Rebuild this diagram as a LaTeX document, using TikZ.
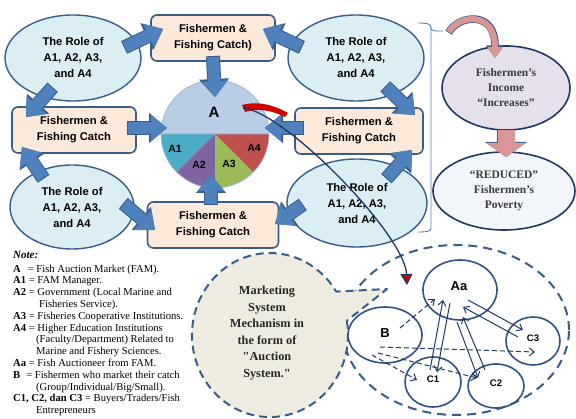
\documentclass[tikz,border=0pt]{standalone}
\usepackage{fontspec}
\setmainfont{Liberation Serif}
\setsansfont{Liberation Sans}
\newfontfamily\calloutfont{Liberation Serif}
\usetikzlibrary{shapes.geometric,arrows.meta}

\begin{document}
\begin{tikzpicture}[x=1pt,y=-1pt,
  role/.style={ellipse,draw=frameBlue,line width=1.4pt,fill=roleFill,inner sep=0pt,
    minimum width=136pt,minimum height=86pt,align=center,
    font=\sffamily\bfseries\fontsize{11.2}{16}\selectfont},
  catch/.style={rectangle,rounded corners=6pt,draw=frameBlue,line width=1.6pt,fill=catchFill,
    minimum width=124pt,minimum height=46pt,align=center,
    font=\sffamily\bfseries\fontsize{11.2}{16}\selectfont},
  blockarrow/.style={arrowBlue,line width=12pt,-{Triangle[width=27pt,length=16pt,line width=0pt]},
    preaction={draw=frameBlue,line width=14pt,shorten <=-1pt,-{Triangle[width=30pt,length=18pt,line width=0pt]}}},
  outcome/.style={ellipse,draw=outcomeEdge,line width=1.6pt,inner sep=0pt,align=center,
    text=outcomeText,font=\bfseries\fontsize{11.5}{15}\selectfont},
  party/.style={ellipse,draw=partyEdge,line width=1.6pt,inner sep=0pt,
    font=\sffamily\bfseries},
  deal/.style={partyArrow,line width=1pt,-{Straight Barb[length=5pt,width=8pt]}},
  offer/.style={deal,dash pattern=on 5pt off 3pt},
  slice/.style={font=\sffamily\bfseries\fontsize{10.5}{12}\selectfont}]
\definecolor{frameBlue}{HTML}{385D8A}
\definecolor{roleFill}{HTML}{DAEEF3}
\definecolor{catchFill}{HTML}{FDE9D9}
\definecolor{arrowBlue}{HTML}{4F81BD}
\definecolor{pieTop}{HTML}{B9CDE5}
\definecolor{pieEdge}{HTML}{95B3D7}
\definecolor{wedgeOne}{HTML}{4BACC6}
\definecolor{wedgeTwo}{HTML}{8064A2}
\definecolor{wedgeThree}{HTML}{9BBB59}
\definecolor{wedgeFour}{HTML}{C0504D}
\definecolor{outcomeEdge}{HTML}{1F3864}
\definecolor{outcomeText}{HTML}{3A3A3A}
\definecolor{incomeFill}{HTML}{E5E0EC}
\definecolor{povertyFill}{HTML}{F2F6FA}
\definecolor{salmon}{HTML}{D99694}
\definecolor{bubbleFill}{HTML}{EEECE1}
\definecolor{partyEdge}{HTML}{2F5283}
\definecolor{partyArrow}{HTML}{1F3864}
\definecolor{curveRed}{HTML}{D00000}
\useasboundingbox (0,0) rectangle (576,419);

% notes
\node[anchor=north west,align=left,inner sep=0pt,font=\fontsize{10.6}{11.8}\selectfont] (notes) at (13,251) {%
{\fontsize{11}{12}\selectfont\textbf{\textit{Note:}}}\\[1.8pt]
\textbf{A}\hspace{7pt}= Fish Auction Market (FAM).\\
\textbf{A1} = FAM Manager.\\
\textbf{A2} = Government (Local Marine and\\
\hspace*{26pt}Fisheries Service).\\
\textbf{A3} = Fisheries Cooperative Institutions.\\
\textbf{A4} = Higher Education Institutions\\
\hspace*{23pt}(Faculty/Department) Related to\\
\hspace*{23pt}Marine and Fishery Sciences.\\
\textbf{Aa} = Fish Auctioneer from FAM.\\
\textbf{B}\hspace{6pt}= Fishermen who market their catch\\
\hspace*{23pt}(Group/Individual/Big/Small).\\
\textbf{C1, C2, dan C3} = Buyers/Traders/Fish\\
\hspace*{23pt}Entrepreneurs};

% auction system
\node[ellipse,draw=frameBlue,line width=2pt,dash pattern=on 9pt off 6pt,
  minimum width=226pt,minimum height=170pt] (auc) at (456,330) {};
\fill[bubbleFill] (346.8,320.8) arc[start angle=-10,end angle=328,x radius=78,y radius=82]
  -- (387,289) -- cycle;
\draw[frameBlue,line width=2pt,dash pattern=on 8pt off 5pt,line join=round]
  (346.8,320.8) arc[start angle=-10,end angle=328,x radius=78,y radius=82]
  -- (387,289) -- cycle;
\node[align=center,font=\calloutfont\bfseries\fontsize{12.3}{16.6}\selectfont,text=black!85] (mkt) at (267,333)
  {Marketing\\System\\Mechanism in\\the form of\\"Auction\\System."};
\node[party,minimum width=74pt,minimum height=60pt] (aa) at (460,290) {};
\node[font=\sffamily\bfseries\fontsize{13}{15}\selectfont] at (459,286) {Aa};
\node[party,minimum width=74pt,minimum height=56pt] (fb) at (385,335) {};
\node[font=\sffamily\bfseries\fontsize{13}{15}\selectfont] at (385,333) {B};
\node[party,minimum width=56pt,minimum height=50pt] (c1) at (433,382) {};
\node[party,minimum width=56pt,minimum height=44pt] (c2) at (496,386) {};
\node[party,minimum width=54pt,minimum height=48pt] (c3) at (533,341) {};
\foreach \n/\t in {c1/C1,c2/C2,c3/C3}
  \node[font=\sffamily\bfseries\fontsize{9.5}{11}\selectfont] at ([shift={(0,-3)}]\n.center) {\t};
\draw[offer] ([shift={(15,-7)}]fb.center) -- ([shift={(-25,9)}]aa.center);
\draw[deal] ([shift={(-3,-12)}]c1.center) -- ([shift={(-17,10)}]aa.center);
\draw[deal] ([shift={(-10,13)}]aa.center) -- ([shift={(4,-10)}]c1.center);
\draw[deal] ([shift={(-3,32)}]aa.center) -- ([shift={(-18,-8)}]c2.center);
\draw[deal] ([shift={(-11,-16)}]c2.center) -- ([shift={(3,27)}]aa.center);
\draw[deal] ([shift={(8,10)}]aa.center) -- ([shift={(-10,-11)}]c3.center);
\draw[deal] ([shift={(-15,-4)}]c3.center) -- ([shift={(3,17)}]aa.center);
\draw[offer] ([shift={(-5,12)}]fb.center) -- ([shift={(2,11)}]c3.center);
\draw[offer] ([shift={(-13,20)}]fb.center) -- ([shift={(-16,-2)}]c1.center);
\draw[offer] ([shift={(-7,18)}]fb.center) -- ([shift={(-19,-8)}]c2.center);

% fish auction market pie
\node[circle,minimum size=108pt,inner sep=0pt] (fam) at (215,134) {};
\fill[pieTop] (fam.center) -- +(180:54) arc[start angle=180,end angle=360,radius=54] -- cycle;
\fill[wedgeOne] (fam.center) -- +(135:54) arc[start angle=135,end angle=180,radius=54] -- cycle;
\fill[wedgeTwo] (fam.center) -- +(90:54) arc[start angle=90,end angle=135,radius=54] -- cycle;
\fill[wedgeThree] (fam.center) -- +(45:54) arc[start angle=45,end angle=90,radius=54] -- cycle;
\fill[wedgeFour] (fam.center) -- +(0:54) arc[start angle=0,end angle=45,radius=54] -- cycle;
\draw[pieEdge,line width=0.7pt] (fam.center) circle[radius=54] +(-54,0) -- +(54,0);
\node[font=\sffamily\bfseries\fontsize{15}{16}\selectfont] at (214,112) {A};
\node[slice] at (175,149) {A1};
\node[slice] at (199,165) {A2};
\node[slice] at (229,164) {A3};
\node[slice] at (254,148) {A4};

% roles and catch
\node[role] (rtl) at (73,58) {The Role of\\A1, A2, A3,\\and A4};
\node[role] (rtr) at (356,58) {The Role of\\A1, A2, A3,\\and A4};
\node[role,minimum width=124pt,minimum height=84pt] (rbl) at (72,207) {The Role of\\A1, A2, A3,\\and A4};
\node[role,minimum width=140pt,minimum height=88pt] (rbr) at (357,203) {The Role of\\A1, A2, A3,\\and A4};
\node[catch] (fbt) at (213,38) {Fishermen \&\\Fishing Catch)};
\node[catch] (fbl) at (74,130) {Fishermen \&\\Fishing Catch};
\node[catch,minimum width=128pt] (fbr) at (359,131) {Fishermen \&\\Fishing Catch};
\node[catch,minimum width=131pt] (fbb) at (213,225) {Fishermen \&\\Fishing Catch};

\draw[blockarrow] ([shift={(52,-11)}]rtl.center) -- ([shift={(-50,-9)}]fbt.center);
\draw[blockarrow] ([shift={(0,19)}]fbt.center) -- ([shift={(0,-37)}]fam.center);
\draw[blockarrow] ([shift={(-21,30)}]rtl.center) -- ([shift={(-48,-13)}]fbl.center);
\draw[blockarrow] ([shift={(54,-2)}]fbl.center) -- ([shift={(-48,-6)}]fam.center);
\draw[blockarrow] ([shift={(-29,-29)}]rbl.center) -- ([shift={(-52,17)}]fbl.center);
\draw[blockarrow] ([shift={(52,-3)}]rbl.center) -- ([shift={(-58,5)}]fbb.center);
\draw[blockarrow] ([shift={(-2,-21)}]fbb.center) -- ([shift={(-4,41)}]fam.center);
\draw[blockarrow] ([shift={(-55,-11)}]rtr.center) -- ([shift={(50,-9)}]fbt.center);
\draw[blockarrow] ([shift={(30,29)}]rtr.center) -- ([shift={(56,-16)}]fbr.center);
\draw[blockarrow] ([shift={(-56,-3)}]fbr.center) -- ([shift={(50,-6)}]fam.center);
\draw[blockarrow] ([shift={(30,-25)}]rbr.center) -- ([shift={(53,19)}]fbr.center);
\draw[blockarrow] ([shift={(-55,2)}]rbr.center) -- ([shift={(62,-1)}]fbb.center);

% outcome
\draw[arrowBlue,line width=0.9pt] (418,23) .. controls (428,23) and (431,24) .. (431,28)
  -- (431,228) .. controls (431,231) and (428,232) .. (418,232);
\draw[arrowBlue,line width=0.9pt] (431,28) .. controls (431,31) and (433,31) .. (443,31);
\coordinate (bracetip) at (443,31);
\node[outcome,fill=incomeFill,minimum width=128pt,minimum height=84pt] (ric) at (506,88)
  {Fishermen’s\\Income\\“Increases”};
\node[outcome,fill=povertyFill,minimum width=142pt,minimum height=78pt] (rpv) at (504,191)
  {“REDUCED”\\Fishermen’s\\Poverty};
\draw[salmon,line width=6pt,-{Triangle[width=15pt,length=11pt,line width=0pt]},
  preaction={draw=frameBlue,line width=7.6pt,shorten <=-0.8pt,-{Triangle[width=17.5pt,length=12.5pt,line width=0pt]}}]
  ([shift={(6,1)}]bracetip) .. controls (458,15) and (495,10) .. ([shift={(-11,-30)}]ric.center);
\draw[salmon,line width=17pt,-{Triangle[width=40pt,length=14pt,line width=0pt]},
  preaction={draw=frameBlue,line width=18.6pt,-{Triangle[width=42pt,length=15pt,line width=0pt]}}]
  ([shift={(0,42)}]ric.center) -- ([shift={(2,-34)}]rpv.center);

% link to the auction system
\fill[curveRed] (242,105) .. controls (256,101) and (272,104) .. (288,113)
  -- (285,117) .. controls (272,110) and (256,108) .. (245,112) -- cycle;
\draw[partyArrow,line width=1.3pt,-{Triangle[width=12pt,length=11pt,fill=curveRed]}]
  ([shift={(28,-26)}]fam.center) .. controls (285,112) and (405,235) .. ([shift={(-49,-45)}]auc.center);
\end{tikzpicture}
\end{document}
